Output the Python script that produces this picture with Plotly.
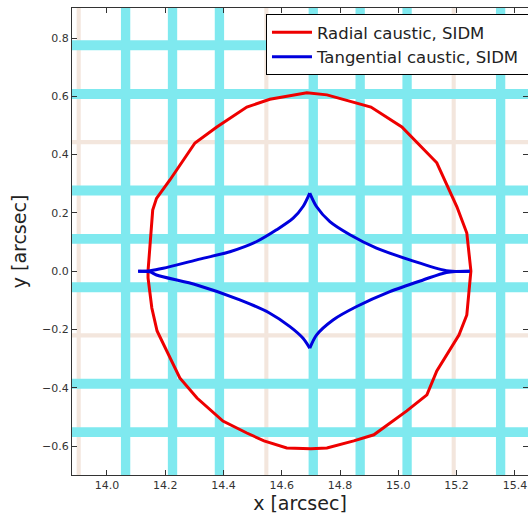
import plotly.graph_objects as go

# ---- data ----
radial_x = [14.141, 14.146, 14.152, 14.157, 14.170, 14.216, 14.302, 14.377, 14.480, 14.559,
            14.686, 14.755, 14.906, 15.012, 15.132, 15.201, 15.235, 15.249, 15.235, 15.208,
            15.132, 15.098, 15.029, 14.916, 14.847, 14.755, 14.700, 14.617, 14.539, 14.480,
            14.398, 14.309, 14.250, 14.206, 14.172, 14.154, 14.141, 14.141]
radial_y = [0.001, 0.070, 0.142, 0.210, 0.250, 0.313, 0.440, 0.495, 0.563, 0.590,
            0.612, 0.605, 0.563, 0.495, 0.372, 0.221, 0.131, 0.001, -0.150, -0.219,
            -0.342, -0.424, -0.479, -0.561, -0.582, -0.606, -0.609, -0.606, -0.582, -0.555,
            -0.514, -0.435, -0.366, -0.273, -0.205, -0.126, -0.023, 0.001]

# tangential caustic, four branches cusp-to-cusp (None separates branches)
tangential_x = [14.107, 14.148, 14.193, 14.308, 14.422, 14.514, 14.582, 14.639, 14.673, 14.696, None,
                14.696, 14.719, 14.765, 14.834, 14.925, 15.039, 15.165, 15.245, None,
                15.245, 15.165, 15.085, 14.971, 14.857, 14.776, 14.719, 14.696, None,
                14.696, 14.673, 14.628, 14.559, 14.456, 14.308, 14.170, 14.148, 14.107]
tangential_y = [0.000, 0.002, 0.010, 0.039, 0.067, 0.102, 0.142, 0.182, 0.222, 0.268, None,
                0.268, 0.222, 0.170, 0.125, 0.079, 0.039, 0.002, 0.000, None,
                0.000, -0.004, -0.030, -0.070, -0.121, -0.167, -0.219, -0.264, None,
                -0.264, -0.230, -0.190, -0.144, -0.098, -0.047, -0.013, -0.002, 0.000]

# background image stripes (centres, arcsec)
cyan_cols = [14.064, 14.225, 14.386, 14.708, 14.869, 15.030, 15.351]
cyan_rows = [0.775, 0.608, 0.277, 0.111, -0.055, -0.386, -0.552]
faint_cols = [13.903, 14.547, 15.190]
faint_rows = [0.443, -0.220]

series_names = ["Radial caustic, SIDM", "Tangential caustic, SIDM"]
x_ticks = [14.0, 14.2, 14.4, 14.6, 14.8, 15.0, 15.2, 15.4]
y_ticks = [-0.6, -0.4, -0.2, 0.0, 0.2, 0.4, 0.6, 0.8]

# ---- figure ----
CYAN = "#7fe9ef"
FAINT = "#f3e6dd"
FONT = "DejaVu Sans"

shapes = []
for c in faint_cols:
    shapes.append(dict(type="rect", xref="x", yref="paper", x0=c - 0.007, x1=c + 0.007,
                       y0=0, y1=1, fillcolor=FAINT, line=dict(width=0), layer="below"))
for r in faint_rows:
    shapes.append(dict(type="rect", xref="paper", yref="y", y0=r - 0.007, y1=r + 0.007,
                       x0=0, x1=1, fillcolor=FAINT, line=dict(width=0), layer="below"))
for c in cyan_cols:
    shapes.append(dict(type="rect", xref="x", yref="paper", x0=c - 0.016, x1=c + 0.016,
                       y0=0, y1=1, fillcolor=CYAN, line=dict(width=0), layer="below"))
for r in cyan_rows:
    shapes.append(dict(type="rect", xref="paper", yref="y", y0=r - 0.017, y1=r + 0.017,
                       x0=0, x1=1, fillcolor=CYAN, line=dict(width=0), layer="below"))

fig = go.Figure()
fig.add_trace(go.Scatter(x=radial_x, y=radial_y, mode="lines",
                         name=series_names[0] + "\u00a0",
                         line=dict(color="#ee0000", width=3)))
fig.add_trace(go.Scatter(x=tangential_x, y=tangential_y, mode="lines",
                         name=series_names[1] + "\u00a0", connectgaps=False,
                         line=dict(color="#0000dd", width=3, shape="spline", smoothing=0.8)))

axis_common = dict(ticks="inside", ticklen=5, tickwidth=1, tickcolor="#333",
                   showline=True, linecolor="#333", linewidth=1.3, mirror="ticks",
                   showgrid=False, zeroline=False, tickformat=".1f",
                   tickfont=dict(family=FONT, size=11, color="#333"))

fig.update_layout(
    width=528, height=516,
    margin=dict(l=72, r=0, t=8, b=41, autoexpand=False),
    paper_bgcolor="white", plot_bgcolor="white",
    font=dict(family=FONT, color="#222"),
    shapes=shapes,
    showlegend=True,
    legend=dict(x=0.4254, y=0.9872, xanchor="left", yanchor="top",
                bgcolor="white", bordercolor="black", borderwidth=1,
                font=dict(family=FONT, size=16.5, color="#222"),
                itemwidth=40, traceorder="normal"),
    xaxis=dict(range=[13.88, 15.445], tickvals=x_ticks,
               title=dict(text="x [arcsec]", font=dict(family=FONT, size=19, color="#222"),
                          standoff=4),
               **axis_common),
    yaxis=dict(range=[-0.699, 0.903], tickvals=y_ticks,
               title=dict(text="y [arcsec]", font=dict(family=FONT, size=19, color="#222"),
                          standoff=10),
               **axis_common),
)

fig.write_html(
    "out.html",
    config={"responsive": False, "displayModeBar": False},
    post_script="document.body.style.margin='0';document.body.style.overflow='hidden';",
)
